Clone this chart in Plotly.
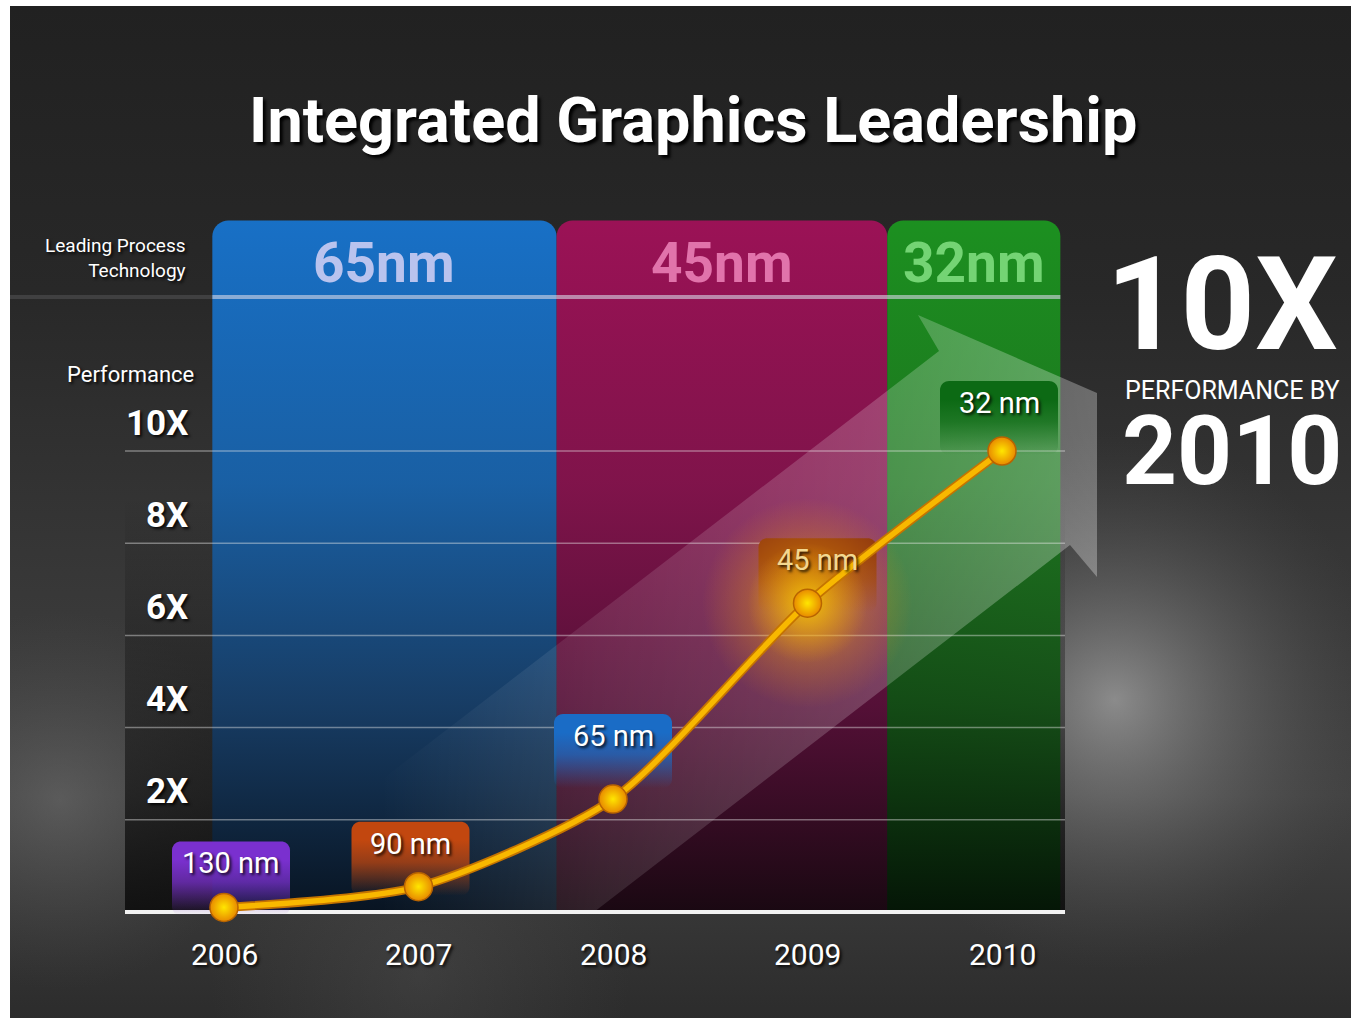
import numpy as np
import plotly.graph_objects as go

# ---------------- data ----------------
years = [2006, 2007, 2008, 2009, 2010]
performance = [0.1, 0.55, 2.45, 6.7, 10.0]
node_labels = ["130 nm", "90 nm", "65 nm", "45 nm", "32 nm"]
node_rgb = [(122, 48, 207), (194, 71, 15), (26, 108, 198), (140, 53, 16), (12, 106, 20)]
label_lift_px = [44, 43, 63, 43, 48]
label_shift_px = [7, -8, 0, 10, -3]

band_labels = ["65nm", "45nm", "32nm"]
band_start = [2005.94, 2007.71, 2009.41]
band_end = [2007.71, 2009.41, 2010.30]
band_text_colors = ["#b9c3ee", "#e173ab", "#74d474"]
band_scales = [
    [[0, "rgba(8,20,34,0.96)"], [0.3, "rgba(22,62,105,0.93)"], [0.62, "rgba(24,98,170,0.95)"], [1, "rgba(24,112,198,1)"]],
    [[0, "rgba(26,8,18,0.96)"], [0.3, "rgba(88,14,56,0.93)"], [0.62, "rgba(132,18,76,0.95)"], [1, "rgba(155,18,86,1)"]],
    [[0, "rgba(4,22,6,0.96)"], [0.3, "rgba(18,78,20,0.93)"], [0.62, "rgba(28,122,30,0.95)"], [1, "rgba(28,144,32,1)"]],
]
band_top_value = 15.0

tick_values = [2, 4, 6, 8, 10]
tick_labels = ["2X", "4X", "6X", "8X", "10X"]

# ---------------- geometry helpers ----------------
W, H = 1351, 1021
X0PX, PXY = 224.0, 194.5       # pixel of 2006, pixels per year
Y0PX, PPU = 912.0, 46.1        # pixel of 0X, pixels per unit
x_range = [2006 - X0PX / PXY, 2006 + (W - X0PX) / PXY]
y_range = [(Y0PX - H) / PPU, Y0PX / PPU]


def X(px):
    return 2006 + (px - X0PX) / PXY


def Y(py):
    return (Y0PX - py) / PPU


def rrect(x0, x1, y0, y1, r_px, round_bottom=True, n=10):
    rx, ry = r_px / PXY, r_px / PPU
    xs, ys = [], []

    def arc(cx, cy, a0, a1):
        for t in np.linspace(np.radians(a0), np.radians(a1), n):
            xs.append(cx + rx * np.cos(t))
            ys.append(cy + ry * np.sin(t))

    arc(x0 + rx, y1 - ry, 180, 90)
    arc(x1 - rx, y1 - ry, 90, 0)
    if round_bottom:
        arc(x1 - rx, y0 + ry, 0, -90)
        arc(x0 + rx, y0 + ry, -90, -180)
    else:
        xs += [x1, x0]
        ys += [y0, y0]
    xs.append(xs[0])
    ys.append(ys[0])
    return xs, ys


FN = "Roboto, Liberation Sans, Arial, sans-serif"
SH = "2px 2px 3px rgba(0,0,0,0.85)"

fig = go.Figure()

# background panel
fig.add_trace(go.Scatter(
    x=[X(10), X(1351), X(1351), X(10), X(10)], y=[Y(6), Y(6), Y(1018), Y(1018), Y(6)],
    mode="none", fill="toself", hoverinfo="skip", showlegend=False,
    fillgradient=dict(type="vertical", start=Y(1018), stop=Y(6),
                      colorscale=[[0, "#2c2c2c"], [0.22, "#424242"], [0.46, "#363636"],
                                  [0.72, "#282828"], [1, "#212121"]])))

# diffuse light spots (gradient.color = centre colour)
fig.add_trace(go.Scatter(
    x=[X(1115), X(60), X(420)], y=[Y(700), Y(800), Y(975)], mode="markers",
    hoverinfo="skip", showlegend=False, cliponaxis=True,
    marker=dict(size=[540, 380, 420], color="rgba(90,90,90,0)",
                gradient=dict(type="radial", color=["rgba(200,200,200,0.8)", "rgba(125,125,125,0.6)",
                                                    "rgba(95,95,95,0.4)"]),
                line=dict(width=0))))

# dark backing of the plot zone
fig.add_trace(go.Scatter(
    x=[X(125), X(1065), X(1065), X(125), X(125)], y=[9, 9, 0, 0, 9],
    mode="none", fill="toself", hoverinfo="skip", showlegend=False,
    fillgradient=dict(type="vertical", start=0, stop=9,
                      colorscale=[[0, "rgba(10,10,10,0.85)"], [1, "rgba(10,10,10,0)"]])))

# process bands
for s, e, sc in zip(band_start, band_end, band_scales):
    bx, by = rrect(s, e, 0, band_top_value, 16, round_bottom=False)
    fig.add_trace(go.Scatter(
        x=bx, y=by, mode="none", fill="toself", hoverinfo="skip", showlegend=False,
        fillgradient=dict(type="vertical", start=0, stop=band_top_value, colorscale=sc)))

# header separator line
fig.add_trace(go.Scatter(x=[X(10), X(212)], y=[Y(297), Y(297)], mode="lines", hoverinfo="skip",
                         showlegend=False, line=dict(color="rgba(200,200,210,0.15)", width=4)))
fig.add_trace(go.Scatter(x=[band_start[0], band_end[-1]], y=[Y(297), Y(297)], mode="lines",
                         hoverinfo="skip", showlegend=False,
                         line=dict(color="rgba(215,215,230,0.6)", width=4)))

# big translucent arrow
arrow_px = [(380, 781), (939, 351), (918, 315), (1097, 393), (1097, 577),
            (1070, 545), (594, 912), (380, 912), (380, 781)]
fig.add_trace(go.Scatter(
    x=[X(p[0]) for p in arrow_px], y=[Y(p[1]) for p in arrow_px],
    mode="none", fill="toself", hoverinfo="skip", showlegend=False,
    fillgradient=dict(type="horizontal", start=X(380), stop=X(1097),
                      colorscale=[[0, "rgba(255,255,255,0)"], [0.3, "rgba(255,255,255,0.1)"],
                                  [0.7, "rgba(255,255,255,0.2)"], [1, "rgba(255,255,255,0.3)"]])))

# grid lines
for v in tick_values:
    fig.add_trace(go.Scatter(x=[X(125), X(1065)], y=[v, v], mode="lines", hoverinfo="skip",
                             showlegend=False, line=dict(color="rgba(235,235,235,0.42)", width=1.5)))
fig.add_trace(go.Scatter(x=[X(125), X(1065)], y=[0, 0], mode="lines", hoverinfo="skip",
                         showlegend=False, line=dict(color="#f2f2f2", width=4)))

# label boxes
for yr, val, rgb, lift, shift in zip(years, performance, node_rgb, label_lift_px, label_shift_px):
    cx = yr + shift / PXY
    cy = val + lift / PPU
    top = cy + 22 / PPU
    bot = cy - 52 / PPU
    bx, by = rrect(cx - 59 / PXY, cx + 59 / PXY, bot, top, 9)
    r, g, b = rgb
    fig.add_trace(go.Scatter(
        x=bx, y=by, mode="none", fill="toself", hoverinfo="skip", showlegend=False,
        fillgradient=dict(type="vertical", start=bot, stop=top,
                          colorscale=[[0, f"rgba({r},{g},{b},0)"], [0.45, f"rgba({r},{g},{b},0.75)"],
                                      [0.75, f"rgba({r},{g},{b},1)"], [1, f"rgba({r},{g},{b},1)"]])))

# glow on the 2009 point
fig.add_trace(go.Scatter(
    x=[years[3], years[3]], y=[performance[3], performance[3]], mode="markers",
    hoverinfo="skip", showlegend=False,
    marker=dict(size=[210, 120], color=["rgba(255,150,0,0)", "rgba(255,170,0,0)"],
                gradient=dict(type="radial", color=["rgba(255,190,0,0.85)", "rgba(255,215,0,1)"]),
                line=dict(width=0))))

# performance curve
fig.add_trace(go.Scatter(x=years, y=performance, mode="lines", hoverinfo="skip", showlegend=False,
                         line=dict(color="#c57400", width=9, shape="spline", smoothing=0.7)))
fig.add_trace(go.Scatter(x=years, y=performance, mode="lines+markers", showlegend=False,
                         line=dict(color="#f8b800", width=5.5, shape="spline", smoothing=0.7),
                         marker=dict(size=28, color="#e88a00",
                                     gradient=dict(type="radial", color="#ffe600"),
                                     line=dict(color="#b86400", width=1.5))))

# ---------------- text ----------------
ann = []


def add(text, x, y, size, color="#ffffff", xanchor="center", align="center",
        yshift=0, shadow=SH):
    ann.append(dict(text=text, x=x, y=y, xref="x", yref="y", showarrow=False,
                    xanchor=xanchor, yanchor="middle", align=align, yshift=yshift,
                    font=dict(family=FN, size=size, color=color, shadow=shadow)))


add("<b>Integrated Graphics Leadership</b>", X(693), Y(120), 63, shadow="3px 3px 3px rgba(0,0,0,0.95)")
add("Leading Process<br>Technology", X(188), Y(258), 19, xanchor="right", align="right")
add("Performance", X(196), Y(374), 22, xanchor="right")
for v, t in zip(tick_values, tick_labels):
    add(f"<b>{t}</b>", X(190), v, 35, xanchor="right", yshift=28)
for s, e, t, c in zip(band_start, band_end, band_labels, band_text_colors):
    add(f"<b>{t}</b>", (s + e) / 2, Y(263), 55, color=c, shadow="none")
for yr in years:
    add(str(yr), yr, Y(954), 30)
for yr, val, t, lift, shift in zip(years, performance, node_labels, label_lift_px, label_shift_px):
    col = "#f3d890" if t == "45 nm" else "#ffffff"
    add(t, yr + shift / PXY, val, 29, color=col, yshift=lift)
add("<b>10X</b>", X(1222), Y(304), 130, shadow="none")
add("PERFORMANCE BY", X(1232), Y(390), 25, shadow="none")
add("<b>2010</b>", X(1232), Y(451), 96, shadow="none")

# white page border of the original picture
shapes = [
    dict(type="rect", xref="paper", yref="paper", x0=0, x1=10 / W, y0=0, y1=1,
         fillcolor="#ffffff", line=dict(width=0), layer="above"),
    dict(type="rect", xref="paper", yref="paper", x0=0, x1=1, y0=1 - 6 / H, y1=1,
         fillcolor="#ffffff", line=dict(width=0), layer="above"),
    dict(type="rect", xref="paper", yref="paper", x0=0, x1=1, y0=0, y1=3 / H,
         fillcolor="#ffffff", line=dict(width=0), layer="above"),
]

fig.update_layout(
    width=W, height=H, margin=dict(l=0, r=0, t=0, b=0),
    paper_bgcolor="#ffffff", plot_bgcolor="rgba(0,0,0,0)",
    xaxis=dict(range=x_range, visible=False, fixedrange=True),
    yaxis=dict(range=y_range, visible=False, fixedrange=True),
    annotations=ann, shapes=shapes, showlegend=False,
)

fig.write_html("out.html", config={"displayModeBar": False},
               post_script="document.body.style.margin='0px';")
